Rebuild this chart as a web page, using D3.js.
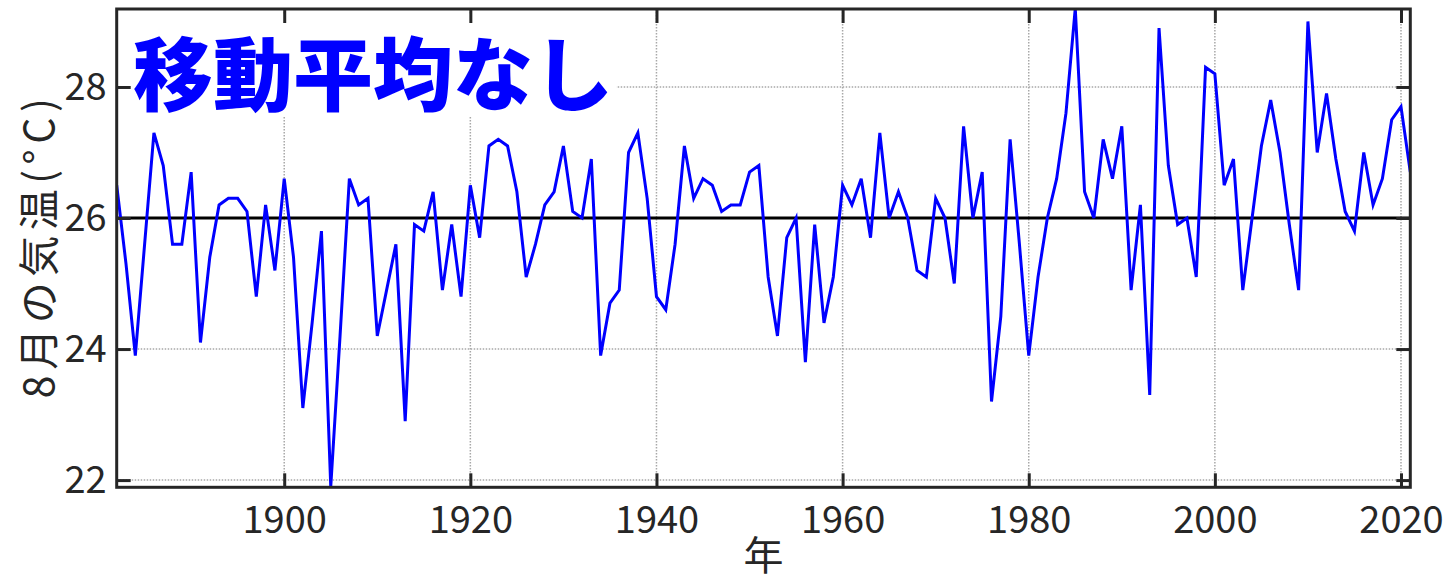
<!DOCTYPE html>
<html>
<head>
<meta charset="utf-8">
<script src="https://cdn.jsdelivr.net/npm/d3@7"></script>
<style>
  html, body { margin: 0; padding: 0; background: #ffffff; }
  svg { display: block; }
  .tick text { font-family: "Noto Sans CJK JP", "Noto Sans", sans-serif; fill: #262626; }
</style>
</head>
<body>
<svg id="chart" width="1445" height="584"></svg>
<script>
// August mean temperature, one value per year
const years = d3.range(1882, 2022);
const temps = [
  26.5, 25.3, 23.9, 25.6, 27.3, 26.8, 25.6, 25.6, 26.7, 24.1,   // 1882-1891
  25.4, 26.2, 26.3, 26.3, 26.1, 24.8, 26.2, 25.2, 26.6, 25.4,   // 1892-1901
  23.1, 24.4, 25.8, 21.9, 24.2, 26.6, 26.2, 26.3, 24.2, 24.9,   // 1902-1911
  25.6, 22.9, 25.9, 25.8, 26.4, 24.9, 25.9, 24.8, 26.5, 25.7,   // 1912-1921
  27.1, 27.2, 27.1, 26.4, 25.1, 25.6, 26.2, 26.4, 27.1, 26.1,   // 1922-1931
  26.0, 26.9, 23.9, 24.7, 24.9, 27.0, 27.3, 26.3, 24.8, 24.6,   // 1932-1941
  25.6, 27.1, 26.3, 26.6, 26.5, 26.1, 26.2, 26.2, 26.7, 26.8,   // 1942-1951
  25.1, 24.2, 25.7, 26.0, 23.8, 25.9, 24.4, 25.1, 26.5, 26.2,   // 1952-1961
  26.6, 25.7, 27.3, 26.0, 26.4, 26.0, 25.2, 25.1, 26.3, 26.0,   // 1962-1971
  25.0, 27.4, 26.0, 26.7, 23.2, 24.5, 27.2, 25.6, 23.9, 25.1,   // 1972-1981
  26.0, 26.6, 27.6, 29.2, 26.4, 26.0, 27.2, 26.6, 27.4, 24.9,   // 1982-1991
  26.2, 23.3, 28.9, 26.8, 25.9, 26.0, 25.1, 28.3, 28.2, 26.5,   // 1992-2001
  26.9, 24.9, 26.0, 27.1, 27.8, 27.0, 25.9, 24.9, 29.0, 27.0,   // 2002-2011
  27.9, 26.9, 26.1, 25.8, 27.0, 26.2, 26.6, 27.5, 27.7, 26.7    // 2012-2021
];
const referenceLine = 26;
const xTicks = [1900, 1920, 1940, 1960, 1980, 2000, 2020];
const yTicks = [22, 24, 26, 28];
const titleText = "移動平均なし";
const xLabel = "年";
const yLabel = "8月の気温(°C)";

const plot = { left: 116.7, right: 1410.3, top: 9, bottom: 487.3 };

const svg = d3.select("#chart");

const x = d3.scaleLinear().domain([1882, 2021]).range([plot.left, plot.right]);
const y = d3.scaleLinear().domain([21.89, 29.19]).range([plot.bottom, plot.top]);

const axisColor = "#262626";
const gridColor = "#a8a8a8";

// grid lines (dotted)
const grid = svg.append("g");
grid.selectAll("line.gx").data(xTicks).join("line")
  .attr("x1", d => x(d)).attr("x2", d => x(d))
  .attr("y1", plot.top).attr("y2", plot.bottom)
  .attr("stroke", gridColor).attr("stroke-width", 1.5).attr("stroke-dasharray", "1.5,1.5");
grid.selectAll("line.gy").data(yTicks).join("line")
  .attr("x1", plot.left).attr("x2", plot.right)
  .attr("y1", d => y(d)).attr("y2", d => y(d))
  .attr("stroke", gridColor).attr("stroke-width", 1.5).attr("stroke-dasharray", "1.5,1.5");

// reference line at the long-term level
svg.append("line")
  .attr("x1", plot.left).attr("x2", plot.right)
  .attr("y1", y(referenceLine)).attr("y2", y(referenceLine))
  .attr("stroke", "#000000").attr("stroke-width", 3);

// temperature series
svg.append("defs").append("clipPath").attr("id", "plotclip")
  .append("rect").attr("x", plot.left).attr("y", plot.top)
  .attr("width", plot.right - plot.left).attr("height", plot.bottom - plot.top);

const line = d3.line().x((d, i) => x(years[i])).y(d => y(d));
svg.append("path")
  .datum(temps)
  .attr("clip-path", "url(#plotclip)")
  .attr("fill", "none")
  .attr("stroke", "#0000ff")
  .attr("stroke-width", 3)
  .attr("stroke-linejoin", "miter")
  .attr("d", line);

// title with a white backing box
svg.append("rect")
  .attr("x", plot.left + 2).attr("y", 15)
  .attr("width", 498).attr("height", 102)
  .attr("fill", "#ffffff");
svg.append("text")
  .attr("x", 133).attr("y", 104)
  .attr("font-family", "'Noto Sans CJK JP', sans-serif")
  .attr("font-weight", 900)
  .attr("font-size", 80)
  .attr("fill", "#0000ff")
  .text(titleText);

// axes: inside ticks on all four sides, labels on bottom and left
const tickLen = 14;
const fontSize = 38;

const bottomAxis = d3.axisBottom(x).tickValues(xTicks).tickFormat(d3.format("d"))
  .tickSizeInner(-tickLen).tickSizeOuter(0).tickPadding(19);
const gB = svg.append("g").attr("transform", `translate(0,${plot.bottom})`).call(bottomAxis);

const leftAxis = d3.axisLeft(y).tickValues(yTicks).tickFormat(d3.format("d"))
  .tickSizeInner(-tickLen).tickSizeOuter(0).tickPadding(10);
const gL = svg.append("g").attr("transform", `translate(${plot.left},0)`).call(leftAxis);

const topAxis = d3.axisTop(x).tickValues(xTicks).tickFormat("")
  .tickSizeInner(-tickLen).tickSizeOuter(0);
const gT = svg.append("g").attr("transform", `translate(0,${plot.top})`).call(topAxis);

const rightAxis = d3.axisRight(y).tickValues(yTicks).tickFormat("")
  .tickSizeInner(-tickLen).tickSizeOuter(0);
const gR = svg.append("g").attr("transform", `translate(${plot.right},0)`).call(rightAxis);

[gB, gL, gT, gR].forEach(g => {
  g.select(".domain").remove();
  g.selectAll(".tick line").attr("stroke", axisColor).attr("stroke-width", 3);
  g.selectAll(".tick text").attr("font-size", fontSize).attr("fill", axisColor);
});

// frame
svg.append("rect")
  .attr("x", plot.left).attr("y", plot.top)
  .attr("width", plot.right - plot.left).attr("height", plot.bottom - plot.top)
  .attr("fill", "none").attr("stroke", axisColor).attr("stroke-width", 3);

// axis titles
svg.append("text")
  .attr("x", (plot.left + plot.right) / 2).attr("y", 570)
  .attr("text-anchor", "middle")
  .attr("font-family", "'Noto Sans CJK JP', sans-serif")
  .attr("font-size", 40)
  .attr("fill", axisColor)
  .text(xLabel);

svg.append("text")
  .attr("transform", `translate(54,${(plot.top + plot.bottom) / 2}) rotate(-90)`)
  .attr("text-anchor", "middle")
  .attr("font-family", "'Noto Sans CJK JP', sans-serif")
  .attr("font-size", 41)
  .attr("textLength", 300)
  .attr("lengthAdjust", "spacing")
  .attr("fill", axisColor)
  .text(yLabel);
</script>
</body>
</html>
